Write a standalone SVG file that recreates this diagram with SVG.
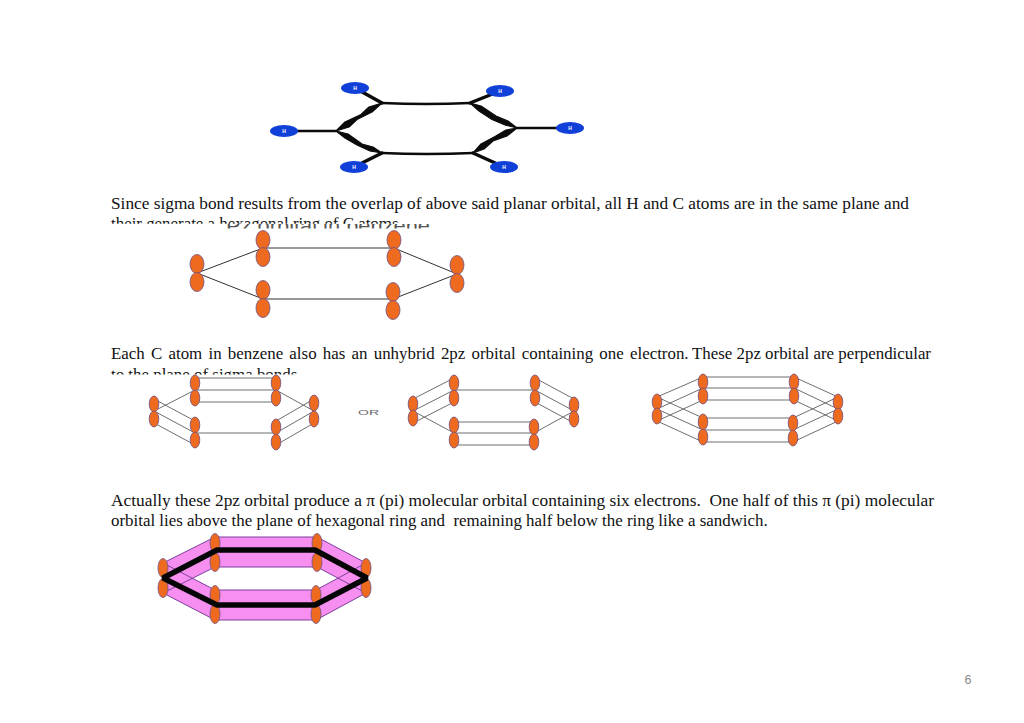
<svg xmlns="http://www.w3.org/2000/svg" width="1024" height="723" viewBox="0 0 1024 723">
<style>
text{font-family:"Liberation Serif","Times New Roman",serif;font-size:16.9px;fill:#111}
.o{fill:#ee6a1f;stroke:#6d4f86;stroke-width:.8}
.h{fill:#1040d8}
.hl{font-family:"Liberation Sans",sans-serif;font-size:5px;font-weight:bold;fill:#fff;text-anchor:middle}
.b{stroke:#0b0b0b;fill:none;stroke-linecap:round}
.bf{fill:#0b0b0b;stroke:#0b0b0b;stroke-width:1.2;stroke-linejoin:round}
.g{stroke:#6f6f6f;stroke-width:1;fill:none}
.k{stroke:#333;stroke-width:1;fill:none}
.p{fill:#f78ff0;stroke:none}
.pl{fill:none;stroke:#7c3f9c;stroke-width:1}
</style>
<defs>
<clipPath id="c1"><rect x="100" y="212" width="340" height="11.8"/></clipPath>
<clipPath id="c2"><rect x="220" y="224" width="220" height="4.5"/></clipPath>
<clipPath id="c3"><rect x="100" y="366" width="340" height="8.5"/></clipPath>
<ellipse id="e2" class="o" rx="7" ry="9.5"/>
<ellipse id="e3" class="o" rx="4.8" ry="8"/>
<ellipse id="e4" class="o" rx="5" ry="9.5"/>
</defs>
<rect width="1024" height="723" fill="#fff"/>

<g id="molecule">
<g class="b">
<path stroke-width="2.6" d="M382 103Q426 105 470 103M382 153Q426 155 473 153"/>
<path stroke-width="2.6" d="M336 131L284 131M517 128L570 128"/>
<path stroke-width="3.5" d="M382 103L355 88M470 103L500 91M382 153L354 167M473 153L504 167"/>
</g>
<path class="bf" d="M382 103L372 112L357 119.500L349 127L336 131L345 122L361 114.500L369 107Z"/>
<path class="bf" d="M470 103L481 106L496 116L508 121L517 128L505 125L492 119.500L479 111Z"/>
<path class="bf" d="M336 131L348 134L362 144L373 147L382 153L370 151L357 145L345 138Z"/>
<path class="bf" d="M517 128L507 136L493 141L484 149L473 153L481 144L495 136.500L506 130Z"/>
<g id="h1"><ellipse class="h" cx="355" cy="88" rx="14" ry="6"/><text class="hl" x="355" y="90">H</text></g>
<g id="h2"><ellipse class="h" cx="500" cy="91" rx="14" ry="6"/><text class="hl" x="500" y="93">H</text></g>
<g id="h3"><ellipse class="h" cx="284" cy="131" rx="14" ry="6"/><text class="hl" x="284" y="133">H</text></g>
<g id="h4"><ellipse class="h" cx="570" cy="128" rx="14" ry="6"/><text class="hl" x="570" y="130">H</text></g>
<g id="h5"><ellipse class="h" cx="354" cy="167" rx="14" ry="6"/><text class="hl" x="354" y="169">H</text></g>
<g id="h6"><ellipse class="h" cx="504" cy="167" rx="14" ry="6"/><text class="hl" x="504" y="169">H</text></g>
</g>

<g id="text1">
<text x="111" y="209" textLength="798" lengthAdjust="spacingAndGlyphs">Since sigma bond results from the overlap of above said planar orbital, all H and C atoms are in the same plane and</text>
<text x="111" y="229" clip-path="url(#c1)">their generate a hexagonal ring of C atoms.</text>
<text x="226" y="232" clip-path="url(#c2)" style="font-family:'Liberation Sans',sans-serif;font-size:19px;fill:#555" textLength="204" lengthAdjust="spacingAndGlyphs">Pz orbital in benzene</text>
</g>

<g id="panel-pz">
<g class="k">
<path d="M263 248H394M263 299H393M197 273L263 248M197 273L263 299M394 248L457 274M457 274L393 299"/>
</g>
<use href="#e2" x="263" y="240"/><use href="#e2" x="263" y="257"/>
<use href="#e2" x="394" y="240"/><use href="#e2" x="394" y="257"/>
<use href="#e2" x="197" y="264"/><use href="#e2" x="197" y="282"/>
<use href="#e2" x="457" y="265"/><use href="#e2" x="457" y="283"/>
<use href="#e2" x="263" y="290"/><use href="#e2" x="263" y="308"/>
<use href="#e2" x="393" y="292"/><use href="#e2" x="393" y="310"/>
</g>

<g id="text2">
<text x="111" y="359" word-spacing="2">Each C atom in benzene also has an unhybrid 2pz orbital containing one electron.</text>
<text x="692" y="359" textLength="239" lengthAdjust="spacingAndGlyphs">These 2pz orbital are perpendicular</text>
<text x="111" y="380" clip-path="url(#c3)">to the plane of sigma bonds</text>
</g>

<g id="panel-a">
<g class="g">
<path d="M195 378H276M195 390H276M195 402H276M195 433H276"/>
<path d="M154 411L195 390M154 399L195 421M154 411L195 433M154 423L195 445"/>
<path d="M276 390L314 411M276 421L314 399M276 433L314 411M276 445L314 423"/>
</g>
<use href="#e3" x="154" y="404"/><use href="#e3" x="154" y="419"/>
<use href="#e3" x="195" y="383"/><use href="#e3" x="195" y="398"/>
<use href="#e3" x="276" y="383"/><use href="#e3" x="276" y="398"/>
<use href="#e3" x="314" y="403"/><use href="#e3" x="314" y="419"/>
<use href="#e3" x="195" y="425"/><use href="#e3" x="195" y="440"/>
<use href="#e3" x="276" y="427"/><use href="#e3" x="276" y="442"/>
</g>
<text id="or" x="358" y="414.500" style="font-family:'Liberation Sans',sans-serif;font-size:8px;fill:#666" textLength="21" lengthAdjust="spacingAndGlyphs">OR</text>

<g id="panel-b">
<g class="g">
<path d="M454 390H535M454 422H534M454 433H534M454 445H534"/>
<path d="M413 399L454 378M413 411L454 390M413 423L454 402M413 411L454 433"/>
<path d="M535 378L574 399M535 390L574 411M535 402L574 423M534 433L574 411"/>
</g>
<use href="#e3" x="413" y="404"/><use href="#e3" x="413" y="418"/>
<use href="#e3" x="454" y="383"/><use href="#e3" x="454" y="398"/>
<use href="#e3" x="535" y="383"/><use href="#e3" x="535" y="398"/>
<use href="#e3" x="574" y="405"/><use href="#e3" x="574" y="419"/>
<use href="#e3" x="454" y="425"/><use href="#e3" x="454" y="440"/>
<use href="#e3" x="534" y="427"/><use href="#e3" x="534" y="442"/>
</g>

<g id="panel-c">
<g class="g">
<path d="M703 377H794M703 388H794M703 400H794M703 418H793M703 430H793M703 442H793"/>
<path d="M657 397L703 377M657 409L703 388M657 421L703 400M657 397L703 418M657 409L703 430M657 421L703 442"/>
<path d="M794 377L838 397M794 388L838 409M794 400L838 421M793 418L838 397M793 430L838 409M793 442L838 421"/>
</g>
<use href="#e3" x="657" y="402"/><use href="#e3" x="657" y="416"/>
<use href="#e3" x="703" y="382"/><use href="#e3" x="703" y="396"/>
<use href="#e3" x="794" y="382"/><use href="#e3" x="794" y="396"/>
<use href="#e3" x="838" y="402"/><use href="#e3" x="838" y="416"/>
<use href="#e3" x="703" y="422"/><use href="#e3" x="703" y="437"/>
<use href="#e3" x="793" y="423"/><use href="#e3" x="793" y="438"/>
</g>

<g id="text3">
<text x="111" y="506" textLength="823" lengthAdjust="spacingAndGlyphs" xml:space="preserve">Actually these 2pz orbital produce a π (pi) molecular orbital containing six electrons.  One half of this π (pi) molecular</text>
<text x="111" y="526" xml:space="preserve">orbital lies above the plane of hexagonal ring and  remaining half below the ring like a sandwich.</text>
</g>

<g id="panel-pi">
<path class="p" d="M163 563L215 537V567L163 593Z"/>
<path class="p" d="M163 563L215 590V620L163 593Z"/>
<path class="p" d="M366 563L317 537V567L366 593Z"/>
<path class="p" d="M366 563L316 590V620L366 593Z"/>
<path class="p" d="M215 537H317V567H215Z"/>
<path class="p" d="M215 590H316V620H215Z"/>
<path class="pl" d="M163 563L215 537H317L366 563M163 593L215 567H317L366 593M163 563L215 590H316L366 563M163 593L215 620H316L366 593"/>
<use href="#e4" x="163" y="568"/><use href="#e4" x="163" y="588"/>
<use href="#e4" x="215" y="543"/><use href="#e4" x="215" y="562"/>
<use href="#e4" x="317" y="543"/><use href="#e4" x="317" y="562"/>
<use href="#e4" x="366" y="568"/><use href="#e4" x="366" y="588"/>
<use href="#e4" x="215" y="595"/><use href="#e4" x="215" y="614"/>
<use href="#e4" x="316" y="595"/><use href="#e4" x="316" y="614"/>
<path d="M163 578L217 550H315L367 578L315 605H217Z" fill="none" stroke="#050505" stroke-width="5.500" stroke-linejoin="bevel"/>
</g>

<text id="page" x="964.500" y="684" style="font-family:'Liberation Sans',sans-serif;font-size:12.500px;fill:#8a8a8a">6</text>
</svg>
